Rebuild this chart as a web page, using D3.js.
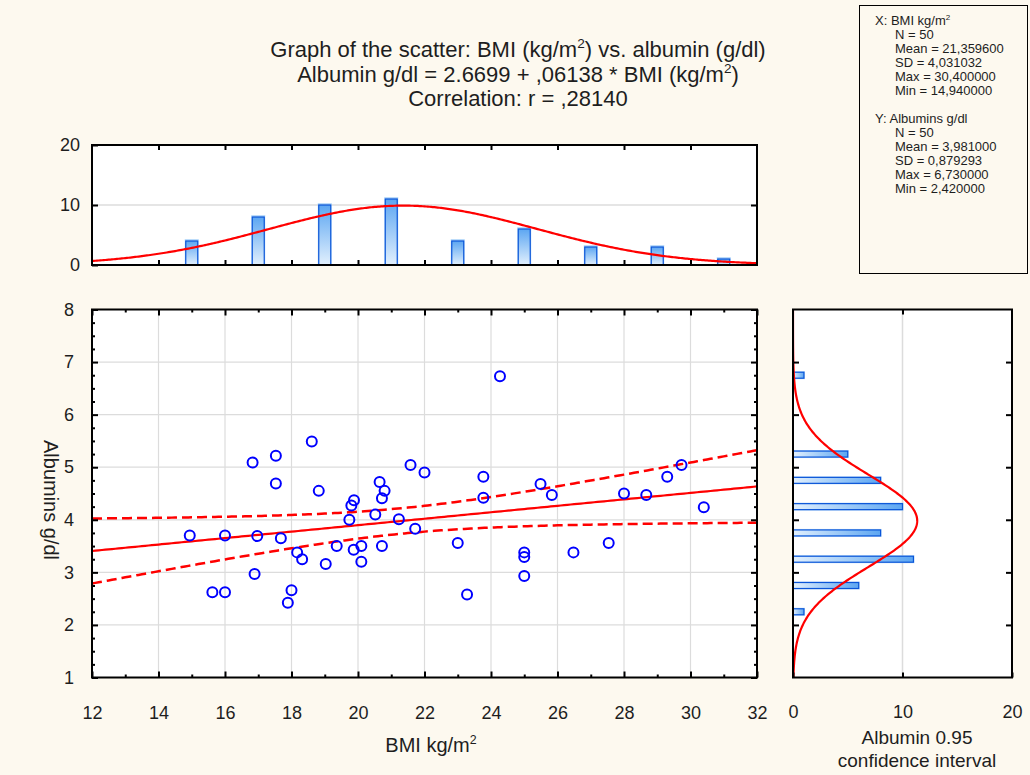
<!DOCTYPE html>
<html>
<head>
<meta charset="utf-8">
<script src="https://cdn.jsdelivr.net/npm/d3@7"></script>
<style>
  body { margin: 0; background: #fdf9ef; }
  svg { display: block; }
  text { font-family: "Liberation Sans", Arial, sans-serif; fill: #1e1e1e; }
</style>
</head>
<body>
<svg id="chart" width="1030" height="775"></svg>
<script>
// ---- data: 50 patients, BMI (kg/m2) and serum albumin (g/dl) ----
const bmi = [14.94, 15.62, 16.0, 16.0, 16.83, 16.89, 16.97, 17.53, 17.53, 17.68,
             17.89, 18.0, 18.17, 18.32, 18.61, 18.82, 19.03, 19.36, 19.74, 19.80,
             19.88, 19.87, 20.10, 20.10, 20.52, 20.65, 20.80, 20.72, 20.72, 21.23,
             21.58, 22.0, 21.72, 23.0, 23.28, 23.77, 23.77, 24.27, 25.0, 25.0,
             25.0, 25.49, 25.83, 26.48, 27.54, 28.0, 28.67, 29.30, 29.73, 30.4];
const albumin = [3.70, 2.62, 2.62, 3.70, 5.09, 2.97, 3.69, 5.22, 4.69, 3.65,
                 2.42, 2.66, 3.38, 3.25, 5.49, 4.55, 3.16, 3.50, 4.00, 4.27,
                 4.37, 3.43, 3.50, 3.20, 4.10, 4.72, 4.55, 4.41, 3.50, 4.01,
                 5.04, 4.90, 3.83, 3.56, 2.58, 4.82, 4.42, 6.73, 3.38, 3.29,
                 2.93, 4.68, 4.47, 3.38, 3.56, 4.50, 4.47, 4.82, 5.04, 4.24];

// frequency tables
const bmiBinCenters = [15, 17, 19, 21, 23, 25, 27, 29, 31];
const bmiBinCounts  = [4, 8, 10, 11, 4, 6, 3, 3, 1];
const bmiBinWidth = 2;
const albBinCenters = [2.25, 2.75, 3.25, 3.75, 4.25, 4.75, 5.25, 5.75, 6.25, 6.75];
const albBinCounts  = [1, 6, 11, 8, 10, 8, 5, 0, 0, 1];
const albBinWidth = 0.5;

// tick values
const bmiTicks = [12, 14, 16, 18, 20, 22, 24, 26, 28, 30, 32];
const albTicks = [1, 2, 3, 4, 5, 6, 7, 8];
const freqTicks = [0, 10, 20];

// summary statistics and fitted model
const nObs = 50;
const bmiMean = 21.3596, bmiSD = 4.031032;
const albMean = 3.981, albSD = 0.879293;
const fitIntercept = 2.6699, fitSlope = 0.06138, fitR = 0.2814;
const tCrit = 2.0106; // t(0.975, 48)

const statsLinesX = ["N = 50", "Mean = 21,359600", "SD = 4,031032", "Max = 30,400000", "Min = 14,940000"];
const statsLinesY = ["N = 50", "Mean = 3,981000", "SD = 0,879293", "Max = 6,730000", "Min = 2,420000"];

// ---- layout ----
const svg = d3.select("#chart");
const main = { left: 92, right: 757, top: 309.5, bottom: 677.5 };
const topH = { left: 92, right: 757, top: 145, bottom: 265 };
const sideH = { left: 793, right: 1012, top: 309.5, bottom: 677.5 };

const x = d3.scaleLinear().domain([12, 32]).range([main.left, main.right]);
const y = d3.scaleLinear().domain([1, 8]).range([main.bottom, main.top]);
const fy = d3.scaleLinear().domain([0, 20]).range([topH.bottom, topH.top]);
const fx = d3.scaleLinear().domain([0, 20]).range([sideH.left, sideH.right]);

const RED = "#ff0000", BLUE = "#0000ff", GRID = "#dcdcdc";
const FONT = "'Liberation Sans', Arial, sans-serif";

// gradients and clips
const defs = svg.append("defs");
const gv = defs.append("linearGradient").attr("id", "barV").attr("x1", 0).attr("y1", 0).attr("x2", 0).attr("y2", 1);
gv.append("stop").attr("offset", "0%").attr("stop-color", "#5ca6f2");
gv.append("stop").attr("offset", "100%").attr("stop-color", "#e2f0fd");
const gh = defs.append("linearGradient").attr("id", "barH").attr("x1", 0).attr("y1", 0).attr("x2", 1).attr("y2", 0);
gh.append("stop").attr("offset", "0%").attr("stop-color", "#e2f0fd");
gh.append("stop").attr("offset", "100%").attr("stop-color", "#5ca6f2");
[["clipMain", main], ["clipTop", topH], ["clipSide", sideH]].forEach(([id, p]) =>
  defs.append("clipPath").attr("id", id).append("rect")
    .attr("x", p.left).attr("y", p.top).attr("width", p.right - p.left).attr("height", p.bottom - p.top));

// text with superscript pieces: [[string, isSup], ...]
function richText(g, parts, size) {
  const t = g.append("text").attr("font-size", size);
  let up = false;
  parts.forEach(([s, sup]) => {
    const ts = t.append("tspan").text(s);
    if (sup && !up) { ts.attr("font-size", size * 0.62).attr("dy", -size * 0.4); up = true; }
    else if (!sup && up) { ts.attr("dy", size * 0.4); up = false; }
  });
  return t;
}

function panelBg(p) {
  svg.append("rect").attr("x", p.left).attr("y", p.top)
    .attr("width", p.right - p.left).attr("height", p.bottom - p.top).attr("fill", "#fff");
}
function panelFrame(p) {
  svg.append("rect").attr("x", p.left).attr("y", p.top)
    .attr("width", p.right - p.left).attr("height", p.bottom - p.top)
    .attr("fill", "none").attr("stroke", "#000").attr("stroke-width", 2);
}
function styleAxis(g) {
  g.select(".domain").remove();
  g.selectAll(".tick line").attr("stroke", "#000").attr("stroke-width", 2);
  g.selectAll(".tick text").attr("font-size", 18).attr("font-family", FONT).attr("fill", "#1e1e1e");
}
const intFmt = d3.format("d");

// ---- title ----
const title = svg.append("g").attr("text-anchor", "middle");
richText(title, [["Graph of the scatter: BMI (kg/m", false], ["2", true], [") vs. albumin (g/dl)", false]], 22)
  .attr("x", 518).attr("y", 57);
richText(title, [["Albumin g/dl = 2.6699 + ,06138 * BMI (kg/m", false], ["2", true], [")", false]], 22)
  .attr("x", 518).attr("y", 81.5);
title.append("text").attr("x", 518).attr("y", 106).attr("font-size", 22).text("Correlation: r = ,28140");

// ---- statistics box ----
svg.append("rect").attr("x", 859.5).attr("y", 5.5).attr("width", 168).attr("height", 268)
  .attr("fill", "none").attr("stroke", "#000").attr("stroke-width", 1);
const sb = svg.append("g");
const sFont = 13, lh = 14;
const xTop = 25, yTop = xTop + lh * 7;
richText(sb, [["X:  BMI kg/m", false], ["2", true]], sFont).attr("x", 875).attr("y", xTop);
statsLinesX.forEach((s, i) => sb.append("text").attr("x", 895).attr("y", xTop + lh * (i + 1)).attr("font-size", sFont).text(s));
sb.append("text").attr("x", 875).attr("y", yTop).attr("font-size", sFont).text("Y:  Albumins g/dl");
statsLinesY.forEach((s, i) => sb.append("text").attr("x", 895).attr("y", yTop + lh * (i + 1)).attr("font-size", sFont).text(s));

// ---- top histogram (BMI) ----
panelBg(topH);
svg.append("line").attr("x1", topH.left).attr("x2", topH.right).attr("y1", fy(10)).attr("y2", fy(10))
  .attr("stroke", GRID).attr("stroke-width", 1.5);
const topBars = svg.append("g");
const bw = 12;
topBars.selectAll("rect.halo").data(bmiBinCenters).join("rect").attr("class", "halo")
  .attr("x", d => x(d) - bw / 2 - 1).attr("y", (d, i) => fy(bmiBinCounts[i]) - 2)
  .attr("width", bw + 2).attr("height", (d, i) => fy(0) - fy(bmiBinCounts[i]) + 2)
  .attr("fill", "#9fcdf8").attr("opacity", 0.7);
topBars.selectAll("rect.bar").data(bmiBinCenters).join("rect").attr("class", "bar")
  .attr("x", d => x(d) - bw / 2).attr("y", (d, i) => fy(bmiBinCounts[i]))
  .attr("width", bw).attr("height", (d, i) => fy(0) - fy(bmiBinCounts[i]))
  .attr("fill", "url(#barV)").attr("stroke", "#0a55d8").attr("stroke-width", 1.2);
const normPdf = (v, m, s) => Math.exp(-0.5 * ((v - m) / s) ** 2) / (s * Math.sqrt(2 * Math.PI));
const topCurve = d3.range(12, 32.001, 0.05).map(v => [v, nObs * bmiBinWidth * normPdf(v, bmiMean, bmiSD)]);
svg.append("path").datum(topCurve).attr("clip-path", "url(#clipTop)")
  .attr("d", d3.line().x(d => x(d[0])).y(d => fy(d[1])))
  .attr("fill", "none").attr("stroke", RED).attr("stroke-width", 2.2);
svg.append("g").attr("transform", `translate(0,${topH.bottom})`)
  .call(d3.axisBottom(x).tickValues(bmiTicks.slice(1, -1)).tickSize(-5).tickFormat("")).call(styleAxis);
svg.append("g").attr("transform", `translate(0,${topH.top})`)
  .call(d3.axisTop(x).tickValues(bmiTicks.slice(1, -1)).tickSize(-5).tickFormat("")).call(styleAxis);
svg.append("g").attr("transform", `translate(${topH.left},0)`)
  .call(d3.axisLeft(fy).tickValues(freqTicks).tickSize(-6).tickPadding(12).tickFormat(intFmt)).call(styleAxis);
svg.append("g").attr("transform", `translate(${topH.right},0)`)
  .call(d3.axisRight(fy).tickValues([10]).tickSize(-6).tickFormat("")).call(styleAxis);
panelFrame(topH);

// ---- scatter panel ----
panelBg(main);
const grid = svg.append("g").attr("stroke", GRID).attr("stroke-width", 1.2);
grid.selectAll("line.v").data(bmiTicks.slice(1, -1)).join("line").attr("class", "v")
  .attr("x1", d => x(d)).attr("x2", d => x(d)).attr("y1", main.top).attr("y2", main.bottom);
grid.selectAll("line.h").data(albTicks.slice(1, -1)).join("line").attr("class", "h")
  .attr("x1", main.left).attr("x2", main.right).attr("y1", d => y(d)).attr("y2", d => y(d));

// regression line and 95% confidence band for the mean
const sResid = albSD * Math.sqrt((1 - fitR * fitR) * (nObs - 1) / (nObs - 2));
const sxx = (nObs - 1) * bmiSD * bmiSD;
const band = d3.range(12, 32.001, 0.1).map(v => {
  const yh = fitIntercept + fitSlope * v;
  const h = tCrit * sResid * Math.sqrt(1 / nObs + (v - bmiMean) ** 2 / sxx);
  return { v, yh, lo: yh - h, hi: yh + h };
});
const fitG = svg.append("g").attr("clip-path", "url(#clipMain)").attr("fill", "none").attr("stroke", RED);
fitG.append("path").datum(band).attr("stroke-width", 2.2)
  .attr("d", d3.line().x(d => x(d.v)).y(d => y(d.yh)));
["lo", "hi"].forEach(k => fitG.append("path").datum(band).attr("stroke-width", 2.5).attr("stroke-dasharray", "10,5")
  .attr("d", d3.line().x(d => x(d.v)).y(d => y(d[k]))));

// observations
svg.append("g").attr("clip-path", "url(#clipMain)").selectAll("circle").data(bmi).join("circle")
  .attr("cx", d => x(d)).attr("cy", (d, i) => y(albumin[i])).attr("r", 5)
  .attr("fill", "none").attr("stroke", BLUE).attr("stroke-width", 2);

// axes (ticks point inward)
const minorX = d3.range(13, 32, 2);
const minorY = d3.range(1, 8.001, 0.25).filter(v => Math.abs(v - Math.round(v)) > 0.01);
svg.append("g").attr("transform", `translate(0,${main.bottom})`)
  .call(d3.axisBottom(x).tickValues(bmiTicks).tickSize(-6).tickPadding(29).tickFormat(intFmt)).call(styleAxis);
svg.append("g").attr("transform", `translate(0,${main.bottom})`)
  .call(d3.axisBottom(x).tickValues(minorX).tickSize(-3).tickFormat("")).call(styleAxis);
svg.append("g").attr("transform", `translate(0,${main.top})`)
  .call(d3.axisTop(x).tickValues(bmiTicks).tickSize(-6).tickFormat("")).call(styleAxis);
svg.append("g").attr("transform", `translate(0,${main.top})`)
  .call(d3.axisTop(x).tickValues(minorX).tickSize(-3).tickFormat("")).call(styleAxis);
svg.append("g").attr("transform", `translate(${main.left},0)`)
  .call(d3.axisLeft(y).tickValues(albTicks).tickSize(-6).tickPadding(18).tickFormat(intFmt)).call(styleAxis);
svg.append("g").attr("transform", `translate(${main.left},0)`)
  .call(d3.axisLeft(y).tickValues(minorY).tickSize(-3).tickFormat("")).call(styleAxis);
svg.append("g").attr("transform", `translate(${main.right},0)`)
  .call(d3.axisRight(y).tickValues(albTicks).tickSize(-6).tickFormat("")).call(styleAxis);
svg.append("g").attr("transform", `translate(${main.right},0)`)
  .call(d3.axisRight(y).tickValues(minorY).tickSize(-3).tickFormat("")).call(styleAxis);
panelFrame(main);

// axis titles
richText(svg, [["BMI kg/m", false], ["2", true]], 20).attr("x", 431).attr("y", 752).attr("text-anchor", "middle");
svg.append("text").attr("transform", "translate(44,500) rotate(90)").attr("text-anchor", "middle")
  .attr("font-size", 20).text("Albumins g/dl");

// ---- side histogram (albumin) ----
panelBg(sideH);
svg.append("line").attr("x1", fx(10)).attr("x2", fx(10)).attr("y1", sideH.top).attr("y2", sideH.bottom)
  .attr("stroke", GRID).attr("stroke-width", 1.5);
const bh = 6;
const albShown = albBinCenters.map((c, i) => ({ c, n: albBinCounts[i] })).filter(d => d.n > 0);
const sideBars = svg.append("g");
sideBars.selectAll("rect.halo").data(albShown).join("rect").attr("class", "halo")
  .attr("x", fx(0)).attr("y", d => y(d.c) - bh / 2 - 1)
  .attr("width", d => fx(d.n) - fx(0) + 1).attr("height", bh + 2)
  .attr("fill", "#9fcdf8").attr("opacity", 0.7);
sideBars.selectAll("rect.bar").data(albShown).join("rect").attr("class", "bar")
  .attr("x", fx(0)).attr("y", d => y(d.c) - bh / 2)
  .attr("width", d => fx(d.n) - fx(0)).attr("height", bh)
  .attr("fill", "url(#barH)").attr("stroke", "#0a55d8").attr("stroke-width", 1.2);
const sideCurve = d3.range(1, 8.001, 0.02).map(v => [v, nObs * albBinWidth * normPdf(v, albMean, albSD)]);
svg.append("path").datum(sideCurve).attr("clip-path", "url(#clipSide)")
  .attr("d", d3.line().x(d => fx(d[1])).y(d => y(d[0])))
  .attr("fill", "none").attr("stroke", RED).attr("stroke-width", 2.2);
svg.append("g").attr("transform", `translate(0,${sideH.bottom})`)
  .call(d3.axisBottom(fx).tickValues(freqTicks).tickSize(-5).tickPadding(28).tickFormat(intFmt)).call(styleAxis);
svg.append("g").attr("transform", `translate(0,${sideH.top})`)
  .call(d3.axisTop(fx).tickValues([10]).tickSize(-5).tickFormat("")).call(styleAxis);
svg.append("g").attr("transform", `translate(${sideH.left},0)`)
  .call(d3.axisLeft(y).tickValues(albTicks.slice(1, -1)).tickSize(-6).tickFormat("")).call(styleAxis);
svg.append("g").attr("transform", `translate(${sideH.right},0)`)
  .call(d3.axisRight(y).tickValues(albTicks.slice(1, -1)).tickSize(-6).tickFormat("")).call(styleAxis);
panelFrame(sideH);
const sideTitle = svg.append("g").attr("text-anchor", "middle").attr("font-size", 19);
sideTitle.append("text").attr("x", 917).attr("y", 744).text("Albumin 0.95");
sideTitle.append("text").attr("x", 917).attr("y", 767).text("confidence interval");
</script>
</body>
</html>
